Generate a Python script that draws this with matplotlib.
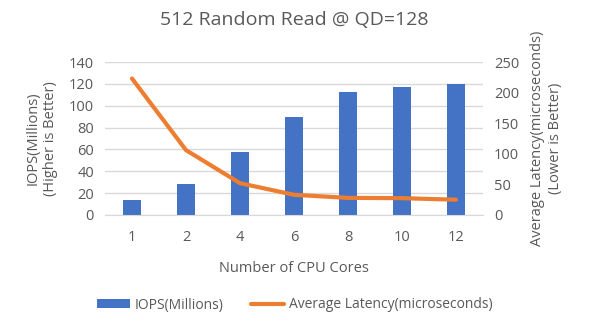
import matplotlib.pyplot as plt
import numpy as np

plt.rcParams['font.family'] = ['Open Sans', 'DejaVu Sans']

cores = ['1', '2', '4', '6', '8', '10', '12']
iops = [14, 28.5, 58, 90, 113, 117, 120]             # millions
latency = [223, 106, 52, 33, 28, 27.5, 25]           # microseconds

gray = '#595959'
x = np.arange(len(cores))

fig = plt.figure(figsize=(5.89, 3.31), dpi=100)
ax = fig.add_axes([105/589, 1 - 215/331, (483-105)/589, (215-62)/331])
ax2 = ax.twinx()

bars = ax.bar(x, iops, width=0.32, color='#4472C4', label='IOPS(Millions)', zorder=2)
line, = ax2.plot(x, latency, color='#ED7D31', lw=3, solid_capstyle='round', label='Average Latency(microseconds)')

ax.set_ylim(0, 140)
ax.set_yticks(range(0, 141, 20))
ax2.set_ylim(0, 250)
ax2.set_yticks(range(0, 251, 50))
ax.set_xlim(-0.5, len(cores) - 0.5)
ax.set_xticks(x, cores)

ax.grid(axis='y', color='#D9D9D9', lw=1, zorder=0)
ax.set_axisbelow(True)
for a in (ax, ax2):
    for s in a.spines.values():
        s.set_visible(False)
    a.tick_params(length=0, labelsize=10.5, colors=gray, pad=8)
ax.tick_params(axis='x', pad=11)
ax.spines['bottom'].set_visible(True)
ax.spines['bottom'].set_color('#D9D9D9')

ax.set_xlabel('Number of CPU Cores', fontsize=10.5, color=gray, labelpad=11)
ax.set_ylabel('IOPS(Millions)\n(Higher is Better)', fontsize=10.5, color=gray, labelpad=8)
ax2.set_ylabel('Average Latency(microseconds)\n(Lower is Better)', fontsize=10.5, color=gray, labelpad=8)
fig.suptitle('512 Random Read @ QD=128', fontsize=14, color=gray, y=1 - 20/331, va='center')

fig.legend(handles=[bars, line], loc='center', bbox_to_anchor=(0.5, 1 - 305/331), ncol=2,
           frameon=False, fontsize=10, labelcolor=gray, handlelength=2.4, handleheight=0.6,
           columnspacing=2.0, handletextpad=0.3)

fig.savefig('out.png', dpi=100)
